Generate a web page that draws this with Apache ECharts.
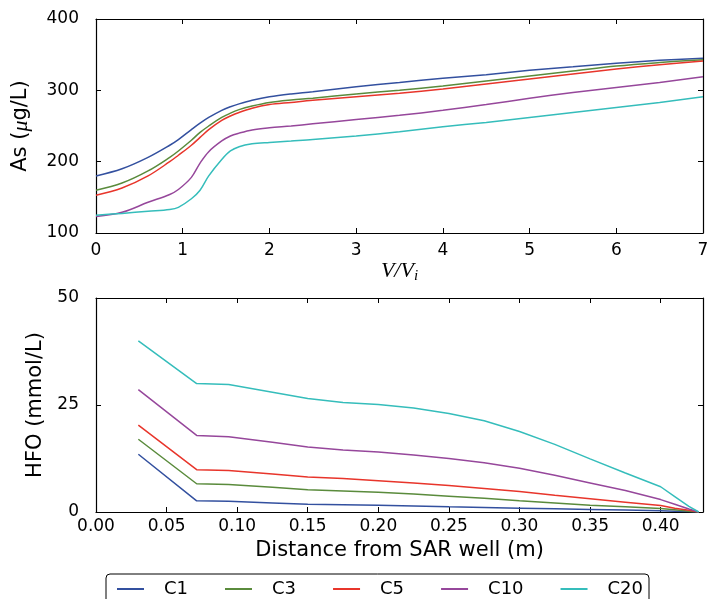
<!DOCTYPE html>
<html><head><meta charset="utf-8">
<script src="https://cdn.jsdelivr.net/npm/echarts@6/dist/echarts.min.js"></script>
<style>html,body{margin:0;padding:0;background:#fff}#c{width:707px;height:599px}</style>
</head><body><div id="c"></div>
<script>
// ---- data ----
const seriesNames = ['C1', 'C3', 'C5', 'C10', 'C20'];
const seriesColors = ['#33509f', '#5a8b3c', '#e8352b', '#96479b', '#35bdbb'];

// top panel: As vs V/Vi
const volX  = [0, 0.3, 0.6, 0.85, 0.95, 1.1, 1.2, 1.3, 1.45, 1.55, 1.65, 1.8, 2.0, 2.25, 2.5, 3, 3.5, 4, 4.5, 5, 5.5, 6, 6.5, 7];
const asC1  = [180, 190, 206, 223, 231, 245, 254, 262, 272, 277, 281, 286, 291, 295, 298, 305, 311, 317, 322, 328, 333, 338, 342, 345];
const asC3  = [160, 170, 187, 206, 215, 230, 241, 250, 262, 268, 273, 278, 283, 286.5, 289, 295, 300, 306, 313, 320, 327, 334, 339, 343];
const asC5  = [153, 163, 180, 200, 209, 223, 234, 245, 258, 264, 269, 275, 280, 283, 286, 291, 296, 302, 309, 316, 323, 330, 336, 341];
const asC10 = [123, 129, 143, 154, 161, 178, 198, 214, 229, 236, 240, 244.5, 247.5, 250, 253, 259, 265, 272, 280, 289, 297, 304, 311, 319];
const asC20 = [125, 127.5, 130.5, 133, 136, 148, 160, 180, 203, 215, 221, 225, 227, 229, 231, 236, 242, 249, 255, 262, 269, 276, 283, 291];

// bottom panel: HFO vs distance
const distX  = [0.03, 0.0713, 0.094, 0.125, 0.15, 0.175, 0.20, 0.225, 0.25, 0.275, 0.30, 0.325, 0.35, 0.375, 0.40, 0.41, 0.42, 0.427];
const hfoC1  = [13.5, 2.6, 2.5, 2.1, 1.8, 1.7, 1.6, 1.4, 1.2, 1.05, 0.9, 0.75, 0.6, 0.45, 0.3, 0.2, 0.1, 0];
const hfoC3  = [17.0, 6.6, 6.4, 5.8, 5.2, 4.9, 4.6, 4.2, 3.7, 3.2, 2.6, 2.1, 1.6, 1.2, 0.8, 0.5, 0.2, 0];
const hfoC5  = [20.3, 9.9, 9.7, 8.9, 8.2, 7.8, 7.3, 6.8, 6.2, 5.5, 4.8, 3.9, 3.1, 2.3, 1.5, 0.9, 0.4, 0];
const hfoC10 = [28.6, 17.9, 17.6, 16.3, 15.2, 14.5, 14.0, 13.3, 12.5, 11.5, 10.2, 8.6, 6.8, 5.0, 2.9, 1.8, 0.7, 0];
const hfoC20 = [40.0, 30.0, 29.8, 28.0, 26.5, 25.6, 25.1, 24.3, 23.0, 21.3, 18.8, 15.8, 12.4, 9.1, 5.9, 3.6, 1.3, 0];

// ---- chart ----
const asSets = [asC1, asC3, asC5, asC10, asC20];
const hfoSets = [hfoC1, hfoC3, hfoC5, hfoC10, hfoC20];
const FONT = 'DejaVu Sans';
const tickStyle = { show: true, inside: true, length: 5, lineStyle: { color: '#000', width: 1 } };
const lineStyle = { show: true, onZero: false, lineStyle: { color: '#000', width: 1.2 } };

function mainX(gi, min, max, interval, fmt, name, nameGap, nameStyle, margin) {
  return {
    type: 'value', gridIndex: gi, min, max, interval, position: 'bottom',
    axisLine: lineStyle, axisTick: tickStyle, splitLine: { show: false },
    axisLabel: { color: '#000', fontFamily: FONT, fontSize: 17, margin, formatter: fmt, showMaxLabel: true, hideOverlap: false },
    name, nameLocation: 'middle', nameGap, nameTextStyle: nameStyle
  };
}
function sideX(gi, min, max, interval) {
  return { type: 'value', gridIndex: gi, min, max, interval, position: 'top',
    axisLine: lineStyle, axisTick: tickStyle, axisLabel: { show: false }, splitLine: { show: false } };
}
function mainY(gi, min, max, interval, name, nameGap, nameStyle) {
  return {
    type: 'value', gridIndex: gi, min, max, interval, position: 'left',
    axisLine: lineStyle, axisTick: tickStyle, splitLine: { show: false },
    axisLabel: { color: '#000', fontFamily: FONT, fontSize: 17, margin: 17 },
    name, nameLocation: 'middle', nameRotate: 90, nameGap, nameTextStyle: nameStyle
  };
}
function sideY(gi, min, max, interval) {
  return { type: 'value', gridIndex: gi, min, max, interval, position: 'right',
    axisLine: lineStyle, axisTick: tickStyle, axisLabel: { show: false }, splitLine: { show: false } };
}

const series = [];
seriesNames.forEach((n, i) => {
  series.push({
    name: n, type: 'line', xAxisIndex: 0, yAxisIndex: 0, showSymbol: false,
    smooth: 0.35,
    lineStyle: { color: seriesColors[i], width: 1.5 }, itemStyle: { color: seriesColors[i] },
    data: volX.map((x, k) => [x, asSets[i][k]])
  });
});
seriesNames.forEach((n, i) => {
  series.push({
    name: n, type: 'line', xAxisIndex: 2, yAxisIndex: 2, showSymbol: false,
    smooth: false,
    lineStyle: { color: seriesColors[i], width: 1.5 }, itemStyle: { color: seriesColors[i] },
    data: distX.map((x, k) => [x, hfoSets[i][k]])
  });
});

const chart = echarts.init(document.getElementById('c'), null, { renderer: 'canvas' });
chart.setOption({
  animation: false,
  backgroundColor: '#fff',
  grid: [
    { left: 96, right: 4, top: 19, height: 214, outerBoundsMode: 'none', containLabel: false },
    { left: 96, right: 4, top: 298, height: 214, outerBoundsMode: 'none', containLabel: false }
  ],
  xAxis: [
    mainX(0, 0, 7, 1, v => String(v),
      '{v|V/V}{s|i}', 22,
      { rich: { v: { fontFamily: 'Liberation Serif', fontStyle: 'italic', fontSize: 22, color: '#000' },
                s: { fontFamily: 'Liberation Serif', fontStyle: 'italic', fontSize: 15, color: '#000', padding: [10, 0, 0, 0] } } }, 9),
    sideX(0, 0, 7, 1),
    mainX(1, 0, 0.43, 0.05,
      v => { const r = Math.round(v / 0.05); return Math.abs(v - r * 0.05) < 1e-6 ? (r * 0.05).toFixed(2) : ''; },
      'Distance from SAR well (m)', 28,
      { fontFamily: FONT, fontSize: 21, color: '#000' }, 6),
    sideX(1, 0, 0.43, 0.05)
  ],
  yAxis: [
    mainY(0, 100, 400, 100, 'As ({m|μ}g/L)', 64,
      { fontFamily: FONT, fontSize: 21, color: '#000',
        rich: { m: { fontFamily: 'Liberation Serif', fontStyle: 'italic', fontSize: 22, color: '#000' } } }),
    sideY(0, 100, 400, 100),
    mainY(1, 0, 50, 25, 'HFO (mmol/L)', 48, { fontFamily: FONT, fontSize: 21, color: '#000' }),
    sideY(1, 0, 50, 25)
  ],
  legend: {
    data: seriesNames,
    left: 106, top: 574,
    orient: 'horizontal',
    padding: [6, 6, 20, 11],
    itemWidth: 27, itemHeight: 2, itemGap: 37,
    icon: 'rect',
    borderColor: '#000', borderWidth: 1, borderRadius: 4,
    textStyle: { fontFamily: FONT, fontSize: 18, color: '#000', padding: [0, 0, 0, 15] }
  },
  series
});
</script>
</body></html>
